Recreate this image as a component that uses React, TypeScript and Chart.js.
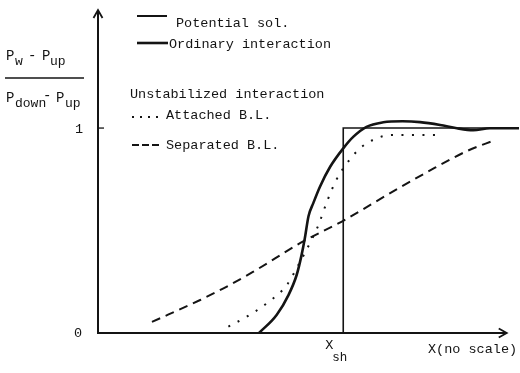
import React, { useEffect, useRef } from "react";
import { Chart, registerables } from "chart.js";

Chart.register(...registerables);

// ---- Data (x: no scale, 0..103 ; y: (Pw-Pup)/(Pdown-Pup)) ----
const potentialX = [0, 60, 60, 103];
const potentialY = [0, 0, 1, 1];

const ordinaryX = [39.4, 43.7, 46.6, 48.6, 49.8, 50.6, 51.5, 52.7, 54.3, 56.8, 60.0, 62.5, 65.7, 69.8, 74.5, 78.8, 83.7, 87.8, 91.8, 95.9, 103];
const ordinaryY = [0, 0.088, 0.185, 0.283, 0.38, 0.462, 0.57, 0.635, 0.714, 0.811, 0.901, 0.958, 1.006, 1.028, 1.033, 1.029, 1.015, 0.999, 0.99, 0.999, 0.999];

const attachedX = [31.9, 36.4, 41.3, 46.2, 48.7, 50.6, 53.9, 56.0, 58.2, 60.9, 64.1, 68.2, 72.0, 82.5];
const attachedY = [0.031, 0.08, 0.145, 0.234, 0.32, 0.39, 0.525, 0.64, 0.743, 0.828, 0.901, 0.95, 0.966, 0.966];

const separatedX = [13.2, 25, 30.7, 37.9, 50.2, 58.8, 60.9, 73.5, 80.5, 90.3, 97.1];
const separatedY = [0.054, 0.161, 0.218, 0.298, 0.447, 0.535, 0.558, 0.706, 0.785, 0.888, 0.941];

const yTickValues = [0, 1];
const yTickLabels = ["0", "1"];
const xShockValue = 60;
const xAxisEnd = 100;

const legendTitle = "Unstabilized interaction";
const legendLabels = ["Potential sol.", "Ordinary interaction", "Attached B.L.", "Separated B.L."];

const toPts = (xs: number[], ys: number[]) => xs.map((x, i) => ({ x, y: ys[i] }));

const INK = "#141414";
const FONT = '13.5px "Liberation Mono", "DejaVu Sans Mono", monospace';

const decorPlugin = {
  id: "decor",
  afterDraw(chart: any) {
    const ctx = chart.ctx as CanvasRenderingContext2D;
    const xs = chart.scales.x;
    const ys = chart.scales.y;
    const x0 = xs.getPixelForValue(0);
    const y0 = ys.getPixelForValue(0);
    const yTop = chart.chartArea.top;
    const xEnd = xs.getPixelForValue(xAxisEnd);
    ctx.save();
    ctx.strokeStyle = INK;
    ctx.fillStyle = INK;
    ctx.lineCap = "butt";
    // axes
    ctx.lineWidth = 2;
    ctx.beginPath();
    ctx.moveTo(x0, y0);
    ctx.lineTo(x0, yTop + 1);
    ctx.moveTo(x0 - 1, y0);
    ctx.lineTo(xEnd - 1, y0);
    ctx.stroke();
    // arrowheads
    ctx.lineWidth = 1.8;
    ctx.beginPath();
    ctx.moveTo(x0 - 4.5, yTop + 8);
    ctx.lineTo(x0, yTop);
    ctx.lineTo(x0 + 4.5, yTop + 8);
    ctx.moveTo(xEnd - 8, y0 - 4.5);
    ctx.lineTo(xEnd, y0);
    ctx.lineTo(xEnd - 8, y0 + 4.5);
    ctx.stroke();
    // tick at y = 1
    ctx.lineWidth = 1.3;
    ctx.beginPath();
    ctx.moveTo(x0, ys.getPixelForValue(1));
    ctx.lineTo(x0 + 6, ys.getPixelForValue(1));
    ctx.stroke();

    ctx.font = FONT;
    ctx.textBaseline = "middle";
    ctx.textAlign = "center";
    ctx.fillText(yTickLabels[1], x0 - 19, ys.getPixelForValue(yTickValues[1]) + 1);
    ctx.fillText(yTickLabels[0], x0 - 20, ys.getPixelForValue(yTickValues[0]));

    // y label as fraction
    ctx.textAlign = "left";
    ctx.textBaseline = "alphabetic";
    const main = '14px "Liberation Mono", monospace';
    const sub = '13px "Liberation Mono", monospace';
    ctx.font = main;
    ctx.fillText("P", 6, 60);
    ctx.font = sub;
    ctx.fillText("w", 15, 65);
    ctx.font = main;
    ctx.fillText("-", 28, 60);
    ctx.fillText("P", 42, 60);
    ctx.font = sub;
    ctx.fillText("up", 50, 65);
    ctx.lineWidth = 1.5;
    ctx.beginPath();
    ctx.moveTo(5, 78);
    ctx.lineTo(84, 78);
    ctx.stroke();
    ctx.font = main;
    ctx.fillText("P", 6, 102);
    ctx.font = sub;
    ctx.fillText("down", 15, 107);
    ctx.font = main;
    ctx.fillText("-", 43, 100);
    ctx.fillText("P", 56, 102);
    ctx.font = sub;
    ctx.fillText("up", 65, 107);

    // x labels
    const xsh = xs.getPixelForValue(xShockValue);
    ctx.font = FONT;
    ctx.fillText("X", xsh - 18, 349);
    ctx.font = '12.5px "Liberation Mono", monospace';
    ctx.fillText("sh", xsh - 11, 361);
    ctx.font = FONT;
    ctx.fillText("X(no scale)", 428, 353);

    // legend
    ctx.lineWidth = 2;
    ctx.beginPath();
    ctx.moveTo(137, 16);
    ctx.lineTo(167, 16);
    ctx.stroke();
    ctx.lineWidth = 2.6;
    ctx.beginPath();
    ctx.moveTo(137, 43);
    ctx.lineTo(168, 43);
    ctx.stroke();
    ctx.fillText(legendLabels[0], 176, 27);
    ctx.fillText(legendLabels[1], 169, 48);
    ctx.fillText(legendTitle, 130, 98);
    [132, 140, 148, 156].forEach((dx) => ctx.fillRect(dx, 116, 2, 2));
    ctx.fillText(legendLabels[2], 166, 119);
    ctx.lineWidth = 2;
    ctx.beginPath();
    [132, 142, 152].forEach((dx) => {
      ctx.moveTo(dx, 145);
      ctx.lineTo(dx + 7, 145);
    });
    ctx.stroke();
    ctx.fillText(legendLabels[3], 166, 149);
    ctx.restore();
  },
};

export default function App() {
  const ref = useRef<HTMLCanvasElement | null>(null);
  useEffect(() => {
    if (!ref.current) return;
    const chart = new Chart(ref.current, {
      type: "line",
      data: {
        datasets: [
          {
            label: legendLabels[0],
            data: toPts(potentialX, potentialY),
            borderColor: INK,
            borderWidth: 1.6,
            pointRadius: 0,
            tension: 0,
            clip: false as any,
          },
          {
            label: legendLabels[1],
            data: toPts(ordinaryX, ordinaryY),
            borderColor: INK,
            borderWidth: 2.6,
            pointRadius: 0,
            cubicInterpolationMode: "monotone",
            clip: false as any,
          },
          {
            label: legendLabels[2],
            data: toPts(attachedX, attachedY),
            borderColor: INK,
            borderWidth: 2,
            borderDash: [2, 8.5],
            pointRadius: 0,
            cubicInterpolationMode: "monotone",
            clip: false as any,
          },
          {
            label: legendLabels[3],
            data: toPts(separatedX, separatedY),
            borderColor: INK,
            borderWidth: 2,
            borderDash: [9, 6],
            pointRadius: 0,
            cubicInterpolationMode: "monotone",
            clip: false as any,
          },
        ],
      },
      options: {
        animation: false,
        responsive: false,
        maintainAspectRatio: false,
        layout: { padding: { left: 98, right: 1, top: 10, bottom: 40 } },
        plugins: { legend: { display: false }, tooltip: { enabled: false } },
        scales: {
          x: { type: "linear", min: 0, max: 103, display: false },
          y: { type: "linear", min: 0, max: 1.576, display: false },
        },
      },
      plugins: [decorPlugin],
    });
    return () => chart.destroy();
  }, []);
  return (
    <div style={{ position: "absolute", left: 0, top: 0, width: 520, height: 373, background: "#fff" }}>
      <canvas ref={ref} width={520} height={373} />
    </div>
  );
}
